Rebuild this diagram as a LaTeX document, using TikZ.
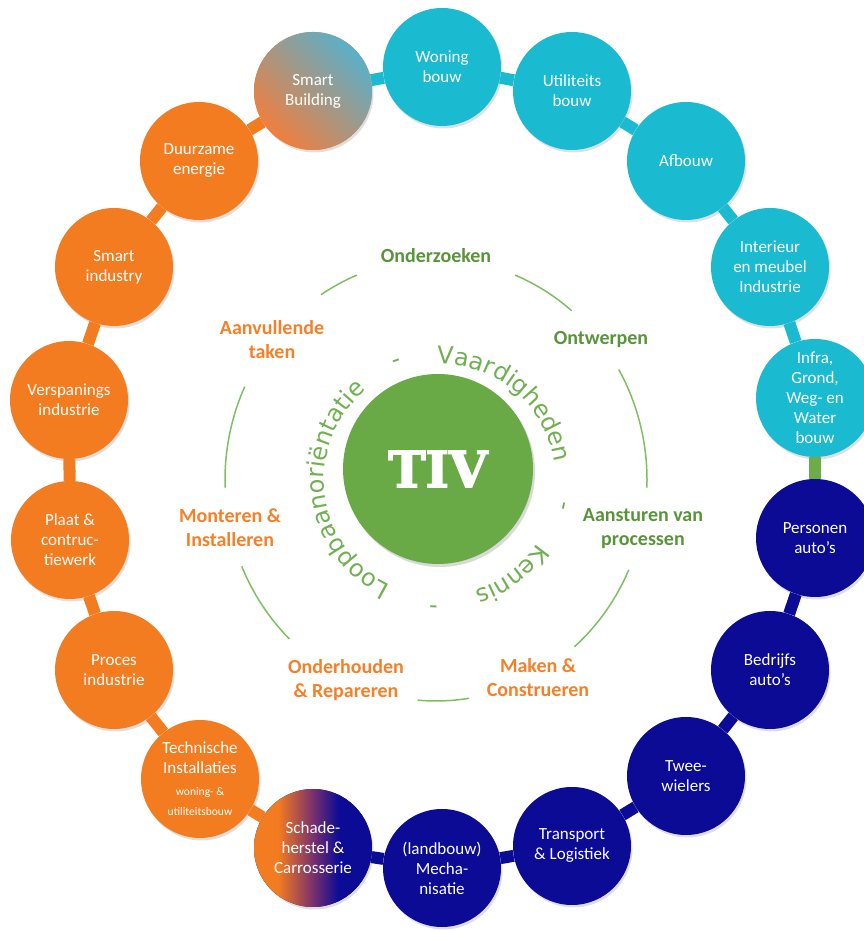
\documentclass[tikz,border=0pt]{standalone}
\usepackage{fontspec}
\setmainfont{Carlito}
\newfontfamily\arcfont{DejaVu Sans}
\newfontfamily\tivfont{DejaVu Serif}[FakeBold=3]
\usetikzlibrary{shadows,decorations.text}

\definecolor{tivorange}{RGB}{244,124,32}
\definecolor{tivteal}{RGB}{26,186,208}
\definecolor{tivblue}{RGB}{11,11,150}
\definecolor{tivgreen}{RGB}{106,170,70}
\definecolor{linkgreen}{RGB}{110,172,72}
\definecolor{labelgreen}{RGB}{88,148,58}
\definecolor{labelorange}{RGB}{245,128,40}
\definecolor{arcgreen}{RGB}{128,190,100}
\definecolor{textgreen}{RGB}{112,176,80}
\definecolor{sbteal}{RGB}{90,176,202}
\definecolor{sbpink}{RGB}{206,142,128}
\definecolor{sborange}{RGB}{240,126,62}
\definecolor{schademid}{RGB}{120,48,110}

% orange left, blue right (25bp..75bp is the node)
\pgfdeclarehorizontalshading{schade}{100bp}{color(0bp)=(tivorange); color(35bp)=(tivorange);
  color(50bp)=(schademid); color(61bp)=(tivblue); color(100bp)=(tivblue)}

\begin{document}
\begin{tikzpicture}[x=1pt,y=1pt,
    sector/.style={circle,fill=#1,minimum size=118pt,inner sep=0pt,text=white,align=center,
      font=\fontsize{17}{20}\selectfont,
      drop shadow={opacity=0.25,shadow xshift=1.5pt,shadow yshift=-2.5pt}},
    link/.style={line width=12pt,draw=#1},
    task/.style={font=\bfseries\fontsize{20}{24}\selectfont,align=center,text=#1},
    ringarc/.style={draw=arcgreen,line width=1.5pt},
    wordgap/.style={font=\arcfont\fontsize{24}{28}\selectfont,text=textgreen,inner sep=0pt}]
    \useasboundingbox (0,0) rectangle (864,931);

    % the ring of sectors
    \node[sector=tivteal] (woning) at (442,864) {Woning\\bouw};
    \node[sector=tivteal] (utiliteit) at (572,840) {Utiliteits\\bouw};
    \node[sector=tivteal] (afbouw) at (686,770) {Afbouw};
    \node[sector=tivteal] (interieur) at (770,664) {Interieur\\en meubel\\Industrie};
    \node[sector=tivteal] (infra) at (815,533) {Infra,\\Grond,\\Weg- en\\Water\\bouw};
    \node[sector=tivblue] (personen) at (815,393) {Personen\\auto's};
    \node[sector=tivblue] (bedrijf) at (770,261) {Bedrijfs\\auto's};
    \node[sector=tivblue] (twee) at (686,155) {Twee-\\wielers};
    \node[sector=tivblue] (transport) at (572,85) {Transport\\\& Logistiek};
    \node[sector=tivblue] (mechanisatie) at (442,63) {(landbouw)\\Mecha-\\nisatie};
    \node[sector=tivblue,shade,shading=schade] (schade) at (313,83) {Schade-\\herstel \&\\Carrosserie};
    \node[sector=tivorange] (technisch) at (200,152) {Technische\\Installaties\\[2pt]
      {\fontsize{11.5}{13}\selectfont woning- \&}\\{\fontsize{11.5}{13}\selectfont utiliteitsbouw}};
    \node[sector=tivorange] (proces) at (114,261) {Proces\\industrie};
    \node[sector=tivorange] (plaat) at (70,391) {Plaat \&\\contruc-\\tiewerk};
    \node[sector=tivorange] (verspaning) at (69,531) {Verspanings\\industrie};
    \node[sector=tivorange] (smartind) at (114,664) {Smart\\industry};
    \node[sector=tivorange] (duurzaam) at (199,770) {Duurzame\\energie};
    \node[sector=tivorange,top color=sbteal,middle color=sbpink,bottom color=sborange,
      shading angle=-45] (smartbuild) at (313,840) {Smart\\Building};

    \draw[link=tivteal] (woning) -- (utiliteit);
    \draw[link=tivteal] (utiliteit) -- (afbouw);
    \draw[link=tivteal] (afbouw) -- (interieur);
    \draw[link=tivteal] (interieur) -- (infra);
    \draw[link=linkgreen] (infra) -- (personen);
    \draw[link=tivblue] (personen) -- (bedrijf);
    \draw[link=tivblue] (bedrijf) -- (twee);
    \draw[link=tivblue] (twee) -- (transport);
    \draw[link=tivblue] (transport) -- (mechanisatie);
    \draw[link=tivblue] (mechanisatie) -- (schade);
    \draw[link=tivorange] (schade) -- (technisch);
    \draw[link=tivorange] (technisch) -- (proces);
    \draw[link=tivorange] (proces) -- (plaat);
    \draw[link=tivorange] (plaat) -- (verspaning);
    \draw[link=tivorange] (verspaning) -- (smartind);
    \draw[link=tivorange] (smartind) -- (duurzaam);
    \draw[link=tivorange] (duurzaam) -- (smartbuild);
    \draw[link=tivteal] (smartbuild) -- (woning);

    % centre
    \node[circle,fill=tivgreen,minimum size=190pt,text=white,
      font=\tivfont\bfseries\fontsize{50}{50}\selectfont,
      drop shadow={opacity=0.3,shadow xshift=2pt,shadow yshift=-3pt}] (tiv) at (438,462) {TIV};

    \path[decorate,decoration={text along path,text align=center,
      text={|\arcfont\fontsize{24}{28}\selectfont\color{textgreen}|Loopbaanoriëntatie}}]
      (440,451) ++(247:116) arc[start angle=247,end angle=127,radius=116];
    \path[decorate,decoration={text along path,text align=center,
      text={|\arcfont\fontsize{24}{28}\selectfont\color{textgreen}|Vaardigheden}}]
      (440,451) ++(110:116) arc[start angle=110,end angle=-10,radius=116];
    \path[decorate,decoration={text along path,text align=center,
      text={|\arcfont\fontsize{24}{28}\selectfont\color{textgreen}|Kennis}}]
      (440,451) ++(7:116) arc[start angle=7,end angle=-113,radius=116];
    \node[wordgap,rotate=20] (gap1) at (397.6,567.5) {-};
    \node[wordgap,rotate=-102] (gap2) at (561.3,425.2) {-};
    \node[wordgap,rotate=-183] (gap3) at (433.5,327.2) {-};

    % tasks round the centre
    \node[task=labelgreen] (onderzoeken) at (436,675) {Onderzoeken};
    \node[task=labelgreen] (ontwerpen) at (601,591) {Ontwerpen};
    \node[task=labelgreen] (aansturen) at (643,402) {Aansturen van\\processen};
    \node[task=labelorange] (maken) at (538,253) {Maken \&\\Construeren};
    \node[task=labelorange] (onderhouden) at (346,251) {Onderhouden\\\& Repareren};
    \node[task=labelorange] (monteren) at (230,403) {Monteren \&\\Installeren};
    \node[task=labelorange] (aanvullende) at (272,591) {Aanvullende\\taken};

    \draw[ringarc] (436,451) ++(112:211 and 221) arc[start angle=112,end angle=123,x radius=211,y radius=221];
    \draw[ringarc] (436,451) ++(50:211 and 221) arc[start angle=50,end angle=68,x radius=211,y radius=221];
    \draw[ringarc] (436,451) ++(-2:211 and 221) arc[start angle=-2,end angle=30,x radius=211,y radius=221];
    \draw[ringarc] (436,451) ++(-49:211 and 221) arc[start angle=-49,end angle=-24,x radius=211,y radius=221];
    \draw[ringarc] (436,451) ++(-95:211 and 221) arc[start angle=-95,end angle=-81,x radius=211,y radius=221];
    \draw[ringarc] (436,451) ++(203:211 and 221) arc[start angle=203,end angle=226,x radius=211,y radius=221];
    \draw[ringarc] (436,451) ++(155:211 and 221) arc[start angle=155,end angle=182,x radius=211,y radius=221];
\end{tikzpicture}
\end{document}
